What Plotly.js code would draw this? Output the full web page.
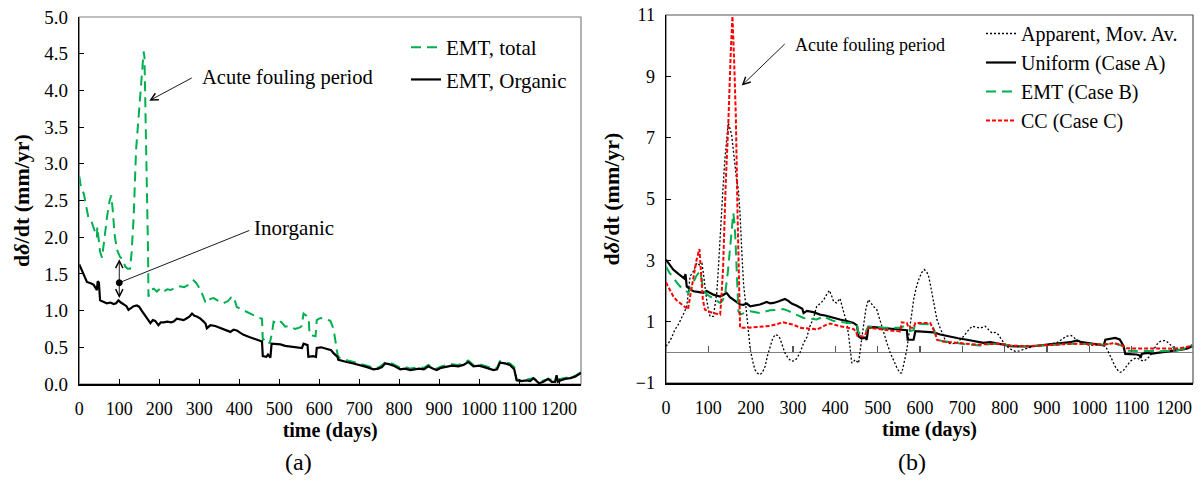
<!DOCTYPE html>
<html><head><meta charset="utf-8">
<script src="https://cdn.plot.ly/plotly-3.0.1.min.js"></script>
<style>html,body{margin:0;padding:0;background:#fff}</style>
</head><body><div id="chart" style="width:1200px;height:488px"></div>
<script>
// ---------- Panel (a) ----------
const aTotalT = [0,5,11,17,23,30,38,44,45,48,52,57,63,70,76,80,84,88,94,102,108,115,121,127,131,136,142,148,155,159,161,163,167,170,172,173,178,186,194,202,211,220,228,240,252,262,273,280,286,292,298,308,315,319,328,336,348,361,372,380,386,390,394,405,416,428,440,450,457,459,465,471,476,482,486,494,500,506,515,523,532,540,552,556,561,568,574,576,583,591,594,603,615,628,636,641,646,650,660,672,686,703,720,736,750,758,766,775,786,803,815,828,840,850,862,873,884,894,905,918,932,948,961,973,986,1000,1010,1019,1036,1045,1052,1065,1077,1088,1094,1105,1119,1136,1150,1170,1194,1215,1240,1255];
const aTotal = [2.83,2.65,2.60,2.45,2.26,2.22,2.10,2.00,2.14,1.95,1.80,1.72,2.00,2.30,2.50,2.57,2.35,2.05,1.83,1.73,1.70,1.60,1.57,1.57,1.80,2.28,3.19,3.60,4.03,4.40,4.53,4.45,3.42,2.50,1.80,1.19,1.28,1.30,1.26,1.30,1.26,1.29,1.28,1.31,1.33,1.32,1.35,1.37,1.41,1.38,1.33,1.22,1.12,1.10,1.16,1.17,1.13,1.10,1.13,1.18,1.19,1.12,1.05,1.02,0.99,0.96,0.93,0.90,0.89,0.60,0.62,0.60,0.55,0.69,0.85,0.83,0.86,0.84,0.78,0.79,0.77,0.75,0.77,0.79,0.96,0.93,0.89,0.67,0.66,0.65,0.87,0.90,0.89,0.86,0.75,0.55,0.40,0.36,0.34,0.32,0.30,0.28,0.25,0.22,0.23,0.26,0.30,0.29,0.27,0.22,0.23,0.21,0.22,0.23,0.22,0.26,0.23,0.21,0.24,0.25,0.27,0.26,0.28,0.32,0.26,0.27,0.25,0.24,0.21,0.22,0.31,0.30,0.28,0.23,0.06,0.05,0.06,0.08,0.03,0.06,0.06,0.08,0.11,0.16];
const aOrgT = [0,10,19,30,36,44,46,49,52,60,69,78,86,92,98,104,111,118,123,130,136,144,150,156,161,168,178,184,190,198,204,211,220,230,236,244,250,261,270,276,282,288,294,303,311,316,319,324,328,340,353,365,378,386,394,402,411,425,436,448,457,459,468,472,478,481,490,503,515,528,543,557,561,571,573,585,592,594,605,620,630,636,646,648,658,669,686,703,720,736,748,757,765,775,786,803,815,828,836,850,862,873,884,894,905,918,932,948,961,973,986,1000,1010,1019,1036,1045,1052,1065,1077,1088,1094,1105,1119,1128,1136,1144,1150,1161,1173,1182,1190,1194,1197,1205,1215,1228,1240,1255];
const aOrg = [1.63,1.50,1.39,1.37,1.35,1.28,1.40,1.38,1.14,1.12,1.10,1.11,1.09,1.10,1.14,1.11,1.09,1.06,1.01,1.04,1.06,1.07,1.05,1.00,0.96,0.92,0.83,0.87,0.86,0.80,0.84,0.84,0.85,0.84,0.85,0.89,0.88,0.87,0.90,0.92,0.96,0.93,0.92,0.89,0.85,0.82,0.76,0.78,0.80,0.79,0.76,0.73,0.71,0.74,0.73,0.70,0.67,0.64,0.62,0.60,0.58,0.38,0.37,0.40,0.36,0.55,0.55,0.54,0.52,0.51,0.50,0.49,0.55,0.53,0.37,0.38,0.37,0.49,0.50,0.48,0.46,0.42,0.37,0.33,0.32,0.30,0.28,0.26,0.23,0.20,0.21,0.23,0.28,0.27,0.25,0.20,0.21,0.19,0.20,0.21,0.20,0.24,0.21,0.19,0.22,0.23,0.25,0.24,0.26,0.30,0.24,0.25,0.23,0.22,0.19,0.20,0.29,0.28,0.26,0.20,0.05,0.04,0.05,0.04,0.08,0.04,0.01,0.03,0.07,0.03,0.03,0.12,0.03,0.05,0.07,0.08,0.10,0.15];

// ---------- Panel (b) ----------
const bAppT = [0,6,14,21,29,37,43,49,53,57,65,73,79,85,89,93,96,100,104,112,116,120,124,128,134,139,143,147,151,155,159,163,167,171,175,179,183,188,192,196,199,205,210,216,222,228,234,240,246,252,258,264,269,275,281,289,297,303,309,317,325,333,340,348,356,365,372,380,386,391,396,403,408,411,416,422,427,431,435,439,443,447,451,455,460,466,472,478,484,490,498,506,514,522,530,540,547,553,557,563,569,577,585,591,597,604,610,616,620,624,628,634,640,646,652,658,664,675,687,695,703,713,723,733,742,754,762,770,778,785,793,805,815,825,835,845,856,868,884,900,912,923,931,939,945,951,957,963,971,982,994,1006,1018,1028,1038,1044,1050,1056,1061,1067,1073,1079,1085,1091,1097,1104,1112,1120,1128,1136,1144,1150,1156,1162,1168,1174,1179,1185,1191,1199,1207,1215,1222,1232,1243];
const bApp = [0.20,0.30,0.50,0.74,0.90,1.10,1.30,1.50,2.00,2.48,2.65,2.91,2.85,2.90,2.50,2.00,1.72,1.40,1.17,1.17,1.50,1.94,2.80,3.89,5.20,6.28,7.00,7.48,7.30,7.10,6.60,6.07,5.60,5.31,4.50,3.30,2.26,1.60,1.07,0.50,0.09,-0.30,-0.56,-0.68,-0.73,-0.65,-0.46,-0.10,0.20,0.45,0.58,0.55,0.46,0.20,-0.02,-0.20,-0.29,-0.28,-0.20,0.00,0.30,0.50,0.85,1.10,1.50,1.60,1.70,1.90,2.02,1.85,1.65,1.61,1.70,1.76,1.50,1.20,0.96,0.60,0.20,-0.35,-0.30,-0.24,-0.30,-0.35,0.20,0.85,1.40,1.72,1.60,1.50,1.39,1.00,0.63,0.30,-0.02,-0.35,-0.55,-0.67,-0.67,-0.30,0.09,0.90,1.72,2.10,2.37,2.60,2.70,2.62,2.50,2.25,1.94,1.50,1.07,0.85,0.63,0.45,0.30,0.28,0.30,0.40,0.52,0.70,0.85,0.82,0.79,0.85,0.75,0.63,0.65,0.58,0.41,0.20,0.10,0.03,0.05,0.09,0.15,0.20,0.22,0.25,0.28,0.31,0.38,0.46,0.52,0.54,0.55,0.50,0.36,0.30,0.25,0.23,0.25,0.22,0.20,0.05,-0.13,-0.30,-0.46,-0.58,-0.65,-0.62,-0.52,-0.40,-0.29,-0.22,-0.18,-0.24,-0.29,-0.22,-0.11,0.05,0.20,0.30,0.36,0.39,0.39,0.33,0.25,0.15,0.09,0.08,0.09,0.15,0.25];
const bUniT = [0,8,17,30,43,46,47,49,57,65,75,88,96,104,112,120,128,136,143,151,159,167,175,183,191,199,210,222,230,238,246,254,265,273,281,289,297,309,317,322,325,333,348,364,376,388,400,411,427,443,451,455,462,470,474,478,490,506,530,553,569,571,578,585,589,605,620,632,648,660,671,690,711,730,750,766,778,790,813,835,860,880,907,923,939,955,971,982,994,1010,1034,1038,1050,1061,1072,1081,1085,1100,1112,1119,1121,1124,1136,1148,1160,1175,1191,1205,1218,1232,1243];
const bUni = [3.02,2.85,2.70,2.55,2.41,2.55,2.30,2.15,2.05,1.99,1.97,1.94,2.00,1.93,1.88,1.85,1.82,1.88,1.94,1.80,1.72,1.65,1.56,1.55,1.59,1.50,1.52,1.56,1.60,1.64,1.60,1.61,1.66,1.70,1.74,1.68,1.59,1.52,1.45,1.42,1.28,1.35,1.31,1.23,1.20,1.15,1.12,1.07,1.02,0.96,0.88,0.52,0.45,0.48,0.41,0.80,0.82,0.80,0.77,0.74,0.72,0.41,0.42,0.41,0.69,0.68,0.67,0.65,0.58,0.54,0.50,0.46,0.41,0.36,0.31,0.33,0.31,0.27,0.20,0.19,0.19,0.22,0.25,0.28,0.31,0.33,0.39,0.33,0.31,0.28,0.23,0.41,0.43,0.47,0.42,0.20,-0.05,-0.06,-0.07,-0.10,-0.18,-0.05,-0.02,-0.04,-0.02,0.00,0.03,0.05,0.09,0.13,0.20];
const bEmtT = [0,8,17,25,33,43,53,59,65,72,80,84,88,96,104,112,120,128,134,140,146,151,156,159,162,164,168,171,175,183,191,199,210,222,234,246,262,277,289,301,313,325,340,356,364,372,380,396,419,435,447,452,455,463,470,478,490,513,533,553,562,573,578,585,589,605,628,634,640,655,671,690,710,742,766,790,813,840,860,892,923,963,994,1034,1058,1077,1081,1089,1105,1121,1140,1160,1185,1207,1225,1243];
const bEmt = [2.80,2.60,2.43,2.28,2.15,2.05,1.94,2.10,2.30,2.50,2.64,2.40,2.04,1.90,1.82,1.77,1.68,1.61,1.70,1.94,2.60,3.24,4.10,4.54,4.20,3.70,2.50,1.34,1.23,1.28,1.31,1.34,1.30,1.28,1.33,1.37,1.38,1.41,1.35,1.28,1.20,1.12,1.10,1.07,1.12,1.18,1.12,1.02,0.98,0.95,0.93,0.85,0.63,0.62,0.63,0.85,0.83,0.80,0.80,0.80,0.85,0.80,0.70,0.72,0.94,0.93,0.91,0.70,0.41,0.36,0.33,0.29,0.26,0.22,0.27,0.28,0.22,0.20,0.20,0.23,0.25,0.28,0.27,0.25,0.30,0.23,0.20,0.05,0.04,0.03,0.04,0.03,0.05,0.06,0.12,0.20];
const bCcT = [0,8,17,25,33,41,49,52,58,65,72,79,83,87,92,100,112,120,128,131,135,141,147,153,157,161,165,169,173,175,191,205,222,246,262,277,290,301,317,333,350,356,368,379,388,400,411,430,443,449,452,465,470,478,506,530,553,557,569,573,585,589,624,630,636,640,655,671,703,735,766,790,813,860,892,923,963,994,1034,1058,1077,1089,1121,1160,1199,1220,1239];
const bCc = [2.28,2.05,1.83,1.70,1.61,1.52,1.45,1.40,1.90,2.48,3.00,3.37,2.60,1.72,1.39,1.33,1.28,1.25,1.23,1.80,2.80,5.50,7.37,9.80,10.96,9.50,7.69,4.50,1.07,0.80,0.80,0.82,0.85,0.86,0.92,0.98,0.93,0.90,0.80,0.79,0.76,0.74,0.83,0.90,0.94,0.89,0.85,0.80,0.76,0.68,0.54,0.52,0.55,0.80,0.74,0.71,0.68,0.98,0.96,0.80,0.80,0.96,0.96,0.80,0.63,0.41,0.35,0.33,0.29,0.25,0.27,0.28,0.22,0.20,0.23,0.25,0.28,0.27,0.25,0.30,0.23,0.13,0.13,0.11,0.12,0.15,0.20];

const xTicks = [0,100,200,300,400,500,600,700,800,900,1000,1100,1200];
const yTicksA = [0,0.5,1,1.5,2,2.5,3,3.5,4,4.5,5];
const yTicksB = [-1,1,3,5,7,9,11];

const FONT = '"Liberation Serif", "Times New Roman", Times, serif';
const GREEN = '#00B050', RED = '#FF0000';

const traces = [
  {x: aTotalT, y: aTotal, xaxis:'x', yaxis:'y', mode:'lines', name:'EMT, total', legend:'legend', legendgroup:'a1',
   line:{color:GREEN, width:2, dash:'10px,6px'}},
  {x: aOrgT, y: aOrg, xaxis:'x', yaxis:'y', mode:'lines', name:'EMT, Organic', legend:'legend', legendgroup:'a2',
   line:{color:'#000', width:2.2}},
  {x: bAppT, y: bApp, xaxis:'x2', yaxis:'y2', mode:'lines', name:'Apparent, Mov. Av.', legend:'legend2',
   line:{color:'#000', width:1.3, dash:'2px,2px'}},
  {x: bUniT, y: bUni, xaxis:'x2', yaxis:'y2', mode:'lines', name:'Uniform (Case A)', legend:'legend2',
   line:{color:'#000', width:2.2}},
  {x: bEmtT, y: bEmt, xaxis:'x2', yaxis:'y2', mode:'lines', name:'EMT (Case B)', legend:'legend2',
   line:{color:GREEN, width:2, dash:'10px,6px'}},
  {x: bCcT, y: bCc, xaxis:'x2', yaxis:'y2', mode:'lines', name:'CC (Case C)', legend:'legend2',
   line:{color:RED, width:2, dash:'4px,2px'}},
  // invisible anchor so the zero-line tick axis of panel (b) is created
  {x: [xTicks[0]], y: [0], xaxis:'x3', yaxis:'y3', mode:'markers', marker:{opacity:0, size:1},
   showlegend:false, hoverinfo:'skip'}
];

const xTickFont = {family: FONT, size: 18, color:'#000'};
const yTickFont = {family: FONT, size: 19, color:'#000'};
const titleFont = {family: FONT, size: 20, color:'#000'};
const yTitleFont = {family: FONT, size: 22, color:'#000'};
const dA = {x:[79.3/1200, 581/1200], y:[1-384/488, 1-17/488]};
const dB = {x:[666/1200, 1193/1200], y:[1-383/488, 1-15/488]};
const zeroPos = dB.y[0] + (dB.y[1]-dB.y[0])/12;

const layout = {
  width:1200, height:488, margin:{l:0,r:0,t:0,b:0},
  paper_bgcolor:'#fff', plot_bgcolor:'rgba(0,0,0,0)',
  font:{family:FONT, color:'#000'},
  xaxis:{domain:dA.x, anchor:'y', range:[0,1255], tickvals:xTicks, ticks:'inside', ticklen:5, tickcolor:'#000',
    showline:true, linecolor:'#000', linewidth:1.5, showgrid:false, zeroline:false, tickfont:xTickFont, ticklabelstandoff:8,
    title:{text:'<b>time (days)</b>', font:titleFont, standoff:1}},
  yaxis:{domain:dA.y, anchor:'x', range:[0,5], tickvals:yTicksA, tickformat:'.1f', ticks:'inside', ticklen:5, tickcolor:'#000',
    showline:true, linecolor:'#000', linewidth:1.5, showgrid:false, zeroline:false, tickfont:yTickFont, ticklabelstandoff:6,
    title:{text:'<b>d<i>δ</i>/dt (mm/yr)</b>', font:yTitleFont, standoff:8}},
  xaxis2:{domain:dB.x, anchor:'y2', range:[0,1245], tickvals:xTicks, ticks:'', 
    showline:true, linecolor:'#000', linewidth:1.5, showgrid:false, zeroline:false, tickfont:xTickFont, ticklabelstandoff:8,
    title:{text:'<b>time (days)</b>', font:titleFont, standoff:1}},
  yaxis2:{domain:dB.y, anchor:'x2', range:[-1,11], tickvals:yTicksB, ticks:'inside', ticklen:5, tickcolor:'#000',
    showline:true, linecolor:'#000', linewidth:1.5, showgrid:false, zeroline:true, zerolinecolor:'#808080', zerolinewidth:1.5,
    tickfont:xTickFont, ticklabelstandoff:6,
    title:{text:'<b>d<i>δ</i>/dt (mm/yr)</b>', font:yTitleFont, standoff:10}},
  xaxis3:{domain:dB.x, anchor:'y3', range:[0,1245], tickvals:xTicks, ticks:'inside', ticklen:6,
    tickcolor:'#555', tickwidth:1.3, showticklabels:false, showline:false, showgrid:false, zeroline:false},
  yaxis3:{domain:[zeroPos, dB.y[1]], anchor:'x3', range:[0,1], visible:false, showgrid:false, zeroline:false},
  showlegend:true,
  legend:{x:406/1200, y:1-27/488, xanchor:'left', yanchor:'top', bgcolor:'rgba(0,0,0,0)', borderwidth:0,
    font:{family:FONT, size:21, color:'#000'}, tracegroupgap:2, itemwidth:30},
  legend2:{x:981/1200, y:1-14/488, xanchor:'left', yanchor:'top', bgcolor:'rgba(0,0,0,0)', borderwidth:0,
    font:{family:FONT, size:20, color:'#000'}, tracegroupgap:0, itemwidth:30},
  shapes:[
    {type:'rect', xref:'x domain', yref:'y domain', x0:0, x1:1, y0:0, y1:1, line:{color:'#808080', width:1.2}, layer:'below'},
    {type:'rect', xref:'x2 domain', yref:'y2 domain', x0:0, x1:1, y0:0, y1:1, line:{color:'#555', width:1.2}, layer:'below'},
    {type:'circle', xref:'x', yref:'y', xsizemode:'pixel', ysizemode:'pixel', xanchor:100, yanchor:1.38,
     x0:-3, x1:3, y0:-3, y1:3, fillcolor:'#000', line:{color:'#000', width:1}}
  ],
  annotations:[
    {xref:'x', yref:'y', x:301, y:4.17, text:'Acute fouling period', showarrow:false, xanchor:'left', yanchor:'middle',
     font:{family:FONT, size:20.5, color:'#000'}},
    {xref:'x', yref:'y', x:175, y:3.86, axref:'x', ayref:'y', ax:285, ay:4.18, text:'', showarrow:true,
     arrowhead:5, arrowsize:1.6, arrowwidth:0.9, arrowcolor:'#000'},
    {xref:'x', yref:'y', x:432, y:2.12, text:'Inorganic', showarrow:false, xanchor:'left', yanchor:'middle',
     font:{family:FONT, size:21, color:'#000'}},
    {xref:'x', yref:'y', x:100, y:1.38, axref:'x', ayref:'y', ax:429, ay:2.10, text:'', showarrow:true,
     arrowhead:0, arrowwidth:0.9, arrowcolor:'#000'},
    {xref:'x', yref:'y', x:100, y:1.70, axref:'x', ayref:'y', ax:100, ay:1.15, text:'', showarrow:true,
     arrowhead:5, startarrowhead:5, arrowside:'end+start', arrowsize:1.6, startarrowsize:1.6, arrowwidth:0.9, arrowcolor:'#000'},
    {xref:'x2', yref:'y2', x:300, y:10.03, text:'Acute fouling period', showarrow:false, xanchor:'left', yanchor:'middle',
     font:{family:FONT, size:18, color:'#000'}},
    {xref:'x2', yref:'y2', x:179, y:8.7, axref:'x2', ayref:'y2', ax:284, ay:10.1, text:'', showarrow:true,
     arrowhead:5, arrowsize:1.6, arrowwidth:0.9, arrowcolor:'#000'},
    {xref:'paper', yref:'paper', x:298/1200, y:1-462/488, text:'(a)', showarrow:false, xanchor:'center', yanchor:'middle',
     font:{family:FONT, size:24, color:'#000'}},
    {xref:'paper', yref:'paper', x:912/1200, y:1-462/488, text:'(b)', showarrow:false, xanchor:'center', yanchor:'middle',
     font:{family:FONT, size:24, color:'#000'}}
  ]
};

Plotly.newPlot('chart', traces, layout, {staticPlot:true, displayModeBar:false});
</script>
</body></html>
